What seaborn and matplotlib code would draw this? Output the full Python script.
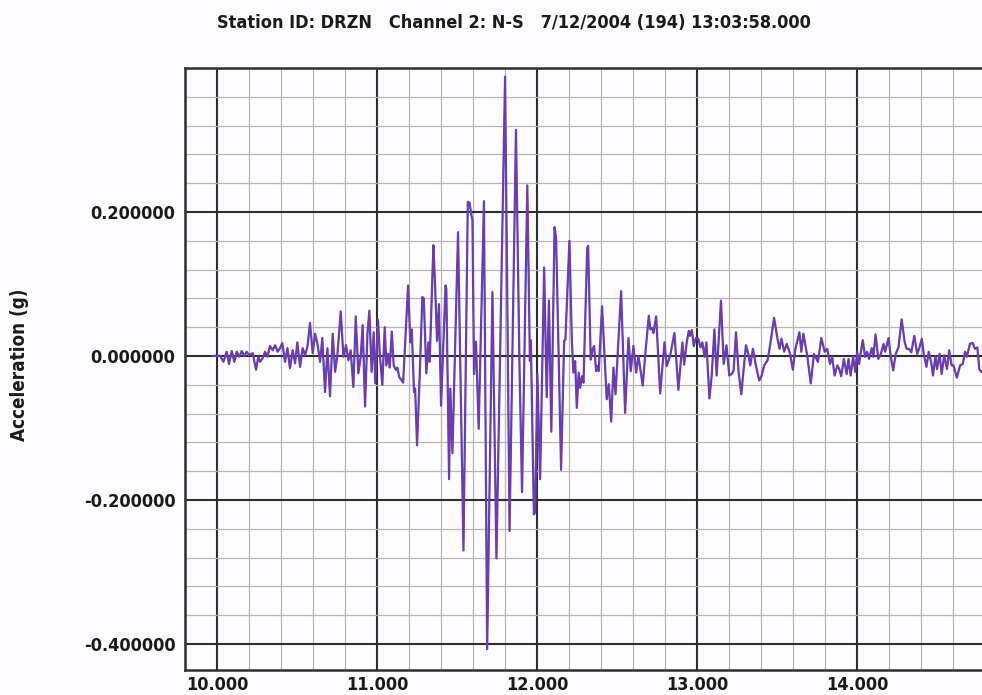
import matplotlib
matplotlib.use("Agg")
import matplotlib.pyplot as plt
from matplotlib import font_manager
from matplotlib.ticker import MultipleLocator, FixedLocator, FormatStrFormatter
import seaborn as sns
import pandas as pd

# ---------------- data ----------------
time_s = [
    9.970, 10.019, 10.040, 10.060, 10.075, 10.092, 10.108, 10.123, 10.140, 10.154,
    10.171, 10.185, 10.202, 10.223, 10.244, 10.258, 10.269, 10.285, 10.300, 10.315,
    10.331, 10.348, 10.363, 10.379, 10.394, 10.408, 10.425, 10.440, 10.456, 10.473,
    10.488, 10.502, 10.519, 10.535, 10.550, 10.565, 10.581, 10.598, 10.613, 10.627,
    10.644, 10.658, 10.675, 10.690, 10.706, 10.723, 10.738, 10.752, 10.773, 10.790,
    10.806, 10.821, 10.835, 10.852, 10.867, 10.883, 10.898, 10.910, 10.925, 10.940,
    10.952, 10.966, 10.979, 10.989,
    11.006, 11.017, 11.033, 11.048, 11.058, 11.069, 11.079, 11.092, 11.104, 11.117,
    11.127, 11.138, 11.148, 11.163, 11.194, 11.208, 11.217, 11.231, 11.238, 11.250,
    11.267, 11.283, 11.292, 11.308, 11.321, 11.329, 11.352, 11.360, 11.375, 11.387,
    11.400, 11.428, 11.433, 11.450, 11.458, 11.471, 11.506, 11.540, 11.567, 11.578,
    11.590, 11.596,
    11.606, 11.618, 11.635, 11.668, 11.688, 11.721, 11.746, 11.800, 11.828, 11.868,
    11.890, 11.906, 11.939, 11.955, 11.961, 11.980, 11.988, 12.002, 12.019, 12.044,
    12.060, 12.074, 12.089, 12.109, 12.119, 12.150,
    12.169, 12.177, 12.202, 12.217, 12.227, 12.238, 12.248, 12.260, 12.269, 12.281,
    12.290, 12.313, 12.319, 12.335, 12.346, 12.356, 12.369, 12.377, 12.385, 12.406,
    12.425, 12.435, 12.448, 12.463, 12.477, 12.490, 12.525, 12.550, 12.571, 12.585,
    12.602, 12.619, 12.633, 12.644, 12.660, 12.677, 12.698, 12.708, 12.719, 12.727,
    12.744, 12.769, 12.796, 12.810, 12.831, 12.858, 12.883, 12.908, 12.919, 12.935,
    12.948, 12.956, 12.967, 12.979, 12.992,
    13.008, 13.021, 13.033, 13.046, 13.058, 13.077, 13.091, 13.108, 13.122, 13.149,
    13.166, 13.183, 13.201, 13.216, 13.228, 13.243, 13.259, 13.276, 13.305, 13.320,
    13.332, 13.349, 13.367, 13.388, 13.402, 13.419, 13.440, 13.456, 13.481, 13.502,
    13.515, 13.527, 13.544, 13.560, 13.581, 13.598, 13.614, 13.639, 13.651, 13.664,
    13.689, 13.710, 13.730, 13.755, 13.776, 13.797, 13.813, 13.830, 13.844, 13.859,
    13.876, 13.888, 13.900, 13.917, 13.934, 13.946, 13.959, 13.975, 13.988,
    14.000, 14.012, 14.021, 14.035, 14.049, 14.062, 14.074, 14.091, 14.101, 14.115,
    14.132, 14.148, 14.165, 14.175, 14.196, 14.210, 14.225, 14.241, 14.258, 14.278,
    14.297, 14.309, 14.324, 14.338, 14.357, 14.375, 14.388, 14.404, 14.416, 14.433,
    14.447, 14.462, 14.474, 14.489, 14.499, 14.515, 14.528, 14.544, 14.561, 14.575,
    14.590, 14.602, 14.623, 14.643, 14.660, 14.674, 14.685, 14.705, 14.722, 14.736,
    14.751, 14.763, 14.775, 14.790,
]
accel_g = [
    0.000, 0.0005, -0.008, 0.006, -0.011, 0.007, -0.008, 0.006, -0.001, 0.007,
    0.000, 0.006, 0.001, 0.004, -0.019, -0.001, -0.008, -0.003, 0.006, -0.001,
    0.014, 0.008, 0.015, 0.006, 0.011, 0.018, -0.008, 0.011, -0.017, 0.008,
    -0.010, 0.019, -0.015, 0.011, 0.001, 0.013, 0.046, 0.004, 0.031, 0.018,
    -0.008, 0.025, -0.050, 0.011, -0.056, 0.031, -0.022, 0.001, 0.062, -0.001,
    0.015, -0.006, 0.008, -0.043, 0.055, -0.024, -0.001, 0.043, -0.070, 0.031,
    0.063, -0.022, 0.033, -0.038,
    0.050, 0.003, -0.040, 0.040, -0.013, 0.003, -0.016, 0.034, -0.013, -0.019,
    -0.016, -0.029, -0.032, -0.037, 0.098, 0.019, 0.037, -0.050, -0.045, -0.124,
    -0.024, 0.082, 0.080, -0.024, 0.019, -0.008, 0.154, 0.114, 0.021, 0.072,
    -0.069, 0.098, 0.093, -0.171, -0.045, -0.135, 0.172, -0.270, 0.214, 0.213,
    0.195, 0.189,
    -0.025, 0.020, -0.101, 0.215, -0.407, 0.089, -0.281, 0.388, -0.243, 0.314,
    -0.012, -0.189, 0.237, -0.007, 0.022, -0.220, -0.217, -0.025, -0.171, 0.123,
    -0.057, 0.077, -0.105, 0.179, 0.163, -0.158,
    0.021, 0.023, 0.160, 0.023, -0.023, -0.007, -0.072, -0.023, -0.044, -0.028,
    -0.037, 0.150, 0.153, -0.005, 0.009, 0.014, -0.021, -0.014, -0.021, 0.069,
    -0.014, -0.060, -0.039, -0.091, -0.016, -0.053, 0.090, -0.079, 0.025, -0.021,
    0.014, -0.023, 0.000, -0.016, -0.041, 0.005, 0.056, 0.037, 0.039, 0.032,
    0.055, -0.052, 0.019, -0.014, 0.000, 0.032, -0.047, 0.019, -0.012, 0.019,
    0.035, 0.028, 0.036, 0.014, 0.025,
    0.024, 0.012, 0.019, -0.001, 0.019, -0.059, -0.027, 0.037, -0.027, 0.077,
    -0.011, 0.015, -0.027, -0.025, -0.020, 0.033, -0.022, -0.053, 0.015, 0.003,
    -0.013, 0.010, -0.013, -0.034, -0.028, -0.013, -0.006, 0.015, 0.053, 0.024,
    0.010, 0.024, 0.006, 0.017, 0.003, -0.019, 0.010, 0.033, 0.006, 0.031,
    -0.001, -0.038, 0.003, -0.008, 0.025, 0.006, 0.010, -0.011, -0.001, -0.027,
    -0.013, -0.018, -0.028, -0.004, -0.025, -0.004, -0.027, -0.001, -0.022,
    0.006, -0.011, 0.003, 0.022, -0.001, 0.006, -0.004, 0.011, -0.001, 0.030,
    -0.004, 0.003, 0.017, 0.006, 0.025, -0.001, -0.020, 0.003, 0.012, 0.051,
    0.019, 0.010, 0.010, 0.005, 0.028, 0.003, 0.011, 0.024, 0.003, -0.015,
    0.006, -0.008, -0.027, 0.000, -0.018, 0.003, -0.025, 0.001, -0.018, 0.008,
    -0.013, -0.013, -0.030, -0.013, -0.011, 0.006, -0.001, 0.017, 0.018, 0.010,
    0.012, -0.018, -0.022, -0.020,
]

x_major = [10.0, 11.0, 12.0, 13.0, 14.0]
y_major = [-0.4, -0.2, 0.0, 0.2]
title_text = "Station ID: DRZN   Channel 2: N-S   7/12/2004 (194) 13:03:58.000"
y_label = "Acceleration (g)"

# ---------------- style ----------------
sns.set_theme(style="white")
names = {f.name for f in font_manager.fontManager.ttflist}
if "Liberation Sans Narrow" in names:
    FAM = ["Liberation Sans Narrow", "DejaVu Sans"]
    STRETCH = "normal"
else:
    FAM = ["DejaVu Sans"]
    STRETCH = "condensed"
plt.rcParams["font.family"] = FAM
plt.rcParams["font.stretch"] = STRETCH

BG = "#fcfcfe"
fig = plt.figure(figsize=(9.82, 6.95), dpi=100, facecolor=BG)
ax = fig.add_axes([185 / 982, 25 / 695, 797 / 982, 602 / 695])
ax.set_facecolor(BG)

df = pd.DataFrame({"t": time_s, "a": accel_g})
sns.lineplot(data=df, x="t", y="a", ax=ax, estimator=None, sort=False,
             color="#3f52c6", linewidth=1.6, zorder=3)
sns.lineplot(data=df, x="t", y="a", ax=ax, estimator=None, sort=False,
             color="#8c2f9f", linewidth=0.8, zorder=4)

ax.set_xlim(9.8, 14.78)
ax.set_ylim(-0.436, 0.4)

ax.xaxis.set_major_locator(FixedLocator(x_major))
ax.xaxis.set_minor_locator(MultipleLocator(0.2))
ax.yaxis.set_major_locator(FixedLocator(y_major))
ax.yaxis.set_minor_locator(MultipleLocator(0.04))
ax.xaxis.set_major_formatter(FormatStrFormatter("%.3f"))
ax.yaxis.set_major_formatter(FormatStrFormatter("%.6f"))

ax.grid(which="minor", color="#bab5ae", linewidth=0.9, zorder=1)
ax.grid(which="major", color="#2e2e2e", linewidth=1.5, zorder=2)
ax.set_axisbelow(True)

ax.tick_params(axis="both", which="both", length=0)
ax.tick_params(axis="x", pad=4)
ax.tick_params(axis="y", pad=7)
for lab in ax.get_xticklabels() + ax.get_yticklabels():
    lab.set_fontsize(13)
    lab.set_fontweight("bold")
    lab.set_color("#1a1a1a")

for s in ["left", "bottom", "top"]:
    ax.spines[s].set_visible(True)
    ax.spines[s].set_color("#2e2e2e")
    ax.spines[s].set_linewidth(1.8)
ax.spines["right"].set_visible(False)

ax.set_xlabel("")
ax.set_ylabel("")
fig.text(20 / 982, 1 - 365 / 695, y_label, rotation=90, ha="center", va="center",
         fontsize=13.5, fontweight="bold", color="#1a1a1a")
fig.text(514 / 982, 1 - 23 / 695, title_text, ha="center", va="center",
         fontsize=13, fontweight="bold", color="#1a1a1a")

fig.savefig("out.png", dpi=100, facecolor=BG)
